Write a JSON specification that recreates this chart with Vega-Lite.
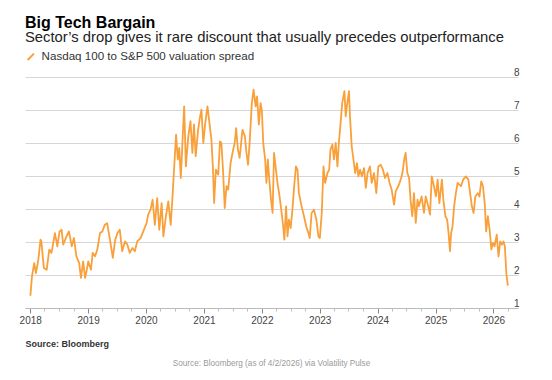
{
  "$schema": "https://vega.github.io/schema/vega-lite/v6.json",
  "width": 493,
  "height": 231,
  "autosize": {"type": "none"},
  "padding": {"top": 77, "left": 25, "right": 34, "bottom": 72},
  "background": "white",
  "title": {
    "text": "Big Tech Bargain",
    "subtitle": "Sector’s drop gives it rare discount that usually precedes outperformance",
    "anchor": "start",
    "frame": "group",
    "font": "Liberation Sans",
    "fontSize": 16,
    "fontWeight": "bold",
    "color": "#000000",
    "subtitleFont": "Liberation Sans",
    "subtitleFontSize": 14.8,
    "subtitleColor": "#222222",
    "subtitlePadding": -0.6,
    "offset": 6
  },
  "config": {
    "view": {"stroke": null},
    "font": "Liberation Sans"
  },
  "resolve": {"axis": {"x": "independent"}},
  "data": {
    "values": [
      {"date": "2018-01-02", "v": 1.37}, {"date": "2018-01-12", "v": 1.96}, {"date": "2018-01-26", "v": 2.36},
      {"date": "2018-02-06", "v": 2.06}, {"date": "2018-02-21", "v": 2.46}, {"date": "2018-03-07", "v": 3.07},
      {"date": "2018-03-12", "v": 3.03}, {"date": "2018-03-28", "v": 2.21}, {"date": "2018-04-15", "v": 2.16},
      {"date": "2018-05-01", "v": 2.77}, {"date": "2018-05-15", "v": 2.67}, {"date": "2018-06-06", "v": 3.27},
      {"date": "2018-06-21", "v": 2.87}, {"date": "2018-07-05", "v": 3.32}, {"date": "2018-07-18", "v": 3.37},
      {"date": "2018-07-28", "v": 2.92}, {"date": "2018-08-18", "v": 3.17}, {"date": "2018-09-02", "v": 3.32},
      {"date": "2018-09-20", "v": 2.87}, {"date": "2018-10-04", "v": 3.12}, {"date": "2018-10-19", "v": 2.57},
      {"date": "2018-11-06", "v": 2.36}, {"date": "2018-11-17", "v": 1.91}, {"date": "2018-12-01", "v": 2.41},
      {"date": "2018-12-13", "v": 1.91}, {"date": "2018-12-24", "v": 2.16}, {"date": "2019-01-02", "v": 2.41},
      {"date": "2019-01-19", "v": 2.16}, {"date": "2019-01-30", "v": 2.67}, {"date": "2019-02-14", "v": 2.57},
      {"date": "2019-02-28", "v": 2.77}, {"date": "2019-03-17", "v": 3.27}, {"date": "2019-04-01", "v": 3.32},
      {"date": "2019-04-16", "v": 3.52}, {"date": "2019-05-01", "v": 3.57}, {"date": "2019-05-19", "v": 3.07},
      {"date": "2019-06-06", "v": 2.52}, {"date": "2019-06-21", "v": 3.07}, {"date": "2019-07-05", "v": 3.27},
      {"date": "2019-07-20", "v": 3.37}, {"date": "2019-08-04", "v": 2.72}, {"date": "2019-08-22", "v": 3.02},
      {"date": "2019-09-06", "v": 2.92}, {"date": "2019-09-21", "v": 2.67}, {"date": "2019-10-08", "v": 2.82},
      {"date": "2019-10-23", "v": 2.72}, {"date": "2019-11-07", "v": 3.02}, {"date": "2019-11-28", "v": 3.12},
      {"date": "2019-12-19", "v": 3.37}, {"date": "2020-01-05", "v": 3.57}, {"date": "2020-01-15", "v": 3.83},
      {"date": "2020-01-30", "v": 3.98}, {"date": "2020-02-12", "v": 4.28}, {"date": "2020-02-26", "v": 3.52},
      {"date": "2020-03-12", "v": 4.33}, {"date": "2020-03-25", "v": 3.37}, {"date": "2020-04-09", "v": 4.18},
      {"date": "2020-04-20", "v": 3.17}, {"date": "2020-05-06", "v": 3.78}, {"date": "2020-05-21", "v": 4.23},
      {"date": "2020-06-05", "v": 3.52}, {"date": "2020-06-18", "v": 4.48}, {"date": "2020-06-25", "v": 5.09},
      {"date": "2020-07-09", "v": 6.25}, {"date": "2020-07-20", "v": 5.5}, {"date": "2020-07-29", "v": 5.85},
      {"date": "2020-08-08", "v": 4.94}, {"date": "2020-08-19", "v": 6.1}, {"date": "2020-08-29", "v": 7.11},
      {"date": "2020-09-09", "v": 5.29}, {"date": "2020-09-24", "v": 6.2}, {"date": "2020-10-08", "v": 6.66},
      {"date": "2020-10-20", "v": 5.7}, {"date": "2020-10-30", "v": 6.56}, {"date": "2020-11-10", "v": 5.6},
      {"date": "2020-11-25", "v": 6.4}, {"date": "2020-12-06", "v": 6.76}, {"date": "2020-12-16", "v": 7.01},
      {"date": "2020-12-28", "v": 6.0}, {"date": "2021-01-08", "v": 6.56}, {"date": "2021-01-23", "v": 7.11},
      {"date": "2021-02-02", "v": 6.71}, {"date": "2021-02-17", "v": 6.1}, {"date": "2021-02-27", "v": 5.19},
      {"date": "2021-03-06", "v": 4.18}, {"date": "2021-03-17", "v": 5.19}, {"date": "2021-04-01", "v": 5.04},
      {"date": "2021-04-12", "v": 6.05}, {"date": "2021-04-21", "v": 6.0}, {"date": "2021-05-01", "v": 5.19},
      {"date": "2021-05-12", "v": 4.03}, {"date": "2021-05-23", "v": 4.69}, {"date": "2021-06-03", "v": 4.59},
      {"date": "2021-06-18", "v": 5.39}, {"date": "2021-07-04", "v": 5.8}, {"date": "2021-07-14", "v": 6.0},
      {"date": "2021-07-23", "v": 6.45}, {"date": "2021-08-03", "v": 5.8}, {"date": "2021-08-14", "v": 5.55},
      {"date": "2021-09-01", "v": 6.4}, {"date": "2021-09-16", "v": 6.2}, {"date": "2021-09-25", "v": 5.75},
      {"date": "2021-10-06", "v": 5.34}, {"date": "2021-10-16", "v": 6.0}, {"date": "2021-10-30", "v": 7.21},
      {"date": "2021-11-10", "v": 7.62}, {"date": "2021-11-23", "v": 7.11}, {"date": "2021-12-02", "v": 7.41},
      {"date": "2021-12-13", "v": 6.56}, {"date": "2021-12-24", "v": 7.21}, {"date": "2022-01-01", "v": 7.0},
      {"date": "2022-01-10", "v": 6.0}, {"date": "2022-01-22", "v": 5.5}, {"date": "2022-01-30", "v": 4.79},
      {"date": "2022-02-08", "v": 5.5}, {"date": "2022-02-17", "v": 4.89}, {"date": "2022-02-28", "v": 4.28},
      {"date": "2022-03-10", "v": 3.88}, {"date": "2022-03-19", "v": 5.7}, {"date": "2022-03-31", "v": 5.19},
      {"date": "2022-04-11", "v": 4.74}, {"date": "2022-04-20", "v": 4.48}, {"date": "2022-05-01", "v": 4.08},
      {"date": "2022-05-16", "v": 3.47}, {"date": "2022-05-23", "v": 3.07}, {"date": "2022-06-03", "v": 4.08},
      {"date": "2022-06-12", "v": 3.17}, {"date": "2022-06-21", "v": 3.68}, {"date": "2022-07-02", "v": 3.42},
      {"date": "2022-07-13", "v": 3.98}, {"date": "2022-07-24", "v": 4.69}, {"date": "2022-08-04", "v": 5.29},
      {"date": "2022-08-14", "v": 5.19}, {"date": "2022-08-23", "v": 4.48}, {"date": "2022-09-09", "v": 4.08},
      {"date": "2022-09-24", "v": 3.78}, {"date": "2022-10-08", "v": 3.47}, {"date": "2022-10-22", "v": 3.27},
      {"date": "2022-10-30", "v": 3.12}, {"date": "2022-11-11", "v": 3.88}, {"date": "2022-11-26", "v": 3.98},
      {"date": "2022-12-11", "v": 3.68}, {"date": "2022-12-24", "v": 3.17}, {"date": "2023-01-02", "v": 3.12},
      {"date": "2023-01-14", "v": 3.88}, {"date": "2023-01-25", "v": 5.29}, {"date": "2023-02-04", "v": 4.79},
      {"date": "2023-02-19", "v": 5.09}, {"date": "2023-03-02", "v": 5.19}, {"date": "2023-03-10", "v": 5.8},
      {"date": "2023-03-22", "v": 5.95}, {"date": "2023-04-01", "v": 5.5}, {"date": "2023-04-12", "v": 6.0},
      {"date": "2023-04-23", "v": 5.29}, {"date": "2023-05-02", "v": 6.0}, {"date": "2023-05-13", "v": 6.61},
      {"date": "2023-05-23", "v": 7.21}, {"date": "2023-06-06", "v": 7.57}, {"date": "2023-06-14", "v": 6.81},
      {"date": "2023-06-24", "v": 7.21}, {"date": "2023-07-05", "v": 7.57}, {"date": "2023-07-11", "v": 6.81},
      {"date": "2023-07-22", "v": 5.9}, {"date": "2023-08-02", "v": 5.5}, {"date": "2023-08-13", "v": 5.09},
      {"date": "2023-08-24", "v": 5.39}, {"date": "2023-09-02", "v": 4.99}, {"date": "2023-09-13", "v": 5.19},
      {"date": "2023-09-24", "v": 4.99}, {"date": "2023-10-08", "v": 5.24}, {"date": "2023-10-19", "v": 4.64},
      {"date": "2023-10-30", "v": 5.09}, {"date": "2023-11-14", "v": 5.29}, {"date": "2023-11-25", "v": 4.79},
      {"date": "2023-12-10", "v": 5.09}, {"date": "2023-12-24", "v": 4.48}, {"date": "2024-01-06", "v": 5.29},
      {"date": "2024-01-21", "v": 5.34}, {"date": "2024-02-04", "v": 5.19}, {"date": "2024-02-17", "v": 4.94},
      {"date": "2024-03-03", "v": 5.09}, {"date": "2024-03-17", "v": 4.79}, {"date": "2024-03-30", "v": 4.59},
      {"date": "2024-04-14", "v": 4.13}, {"date": "2024-04-25", "v": 4.54}, {"date": "2024-05-11", "v": 4.69},
      {"date": "2024-05-26", "v": 4.89}, {"date": "2024-06-06", "v": 5.09}, {"date": "2024-06-17", "v": 5.5},
      {"date": "2024-06-26", "v": 5.7}, {"date": "2024-07-07", "v": 5.09}, {"date": "2024-07-18", "v": 4.94},
      {"date": "2024-07-27", "v": 4.28}, {"date": "2024-08-07", "v": 3.78}, {"date": "2024-08-18", "v": 4.48},
      {"date": "2024-08-29", "v": 3.58}, {"date": "2024-09-09", "v": 4.28}, {"date": "2024-09-18", "v": 4.08},
      {"date": "2024-10-05", "v": 4.38}, {"date": "2024-10-20", "v": 3.88}, {"date": "2024-10-31", "v": 4.38},
      {"date": "2024-11-16", "v": 4.08}, {"date": "2024-11-27", "v": 3.83}, {"date": "2024-12-08", "v": 4.99},
      {"date": "2024-12-22", "v": 4.69}, {"date": "2025-01-03", "v": 4.38}, {"date": "2025-01-14", "v": 4.89},
      {"date": "2025-01-25", "v": 4.18}, {"date": "2025-02-10", "v": 4.89}, {"date": "2025-02-19", "v": 4.28},
      {"date": "2025-03-04", "v": 3.78}, {"date": "2025-03-15", "v": 3.68}, {"date": "2025-03-24", "v": 3.27},
      {"date": "2025-04-02", "v": 2.72}, {"date": "2025-04-09", "v": 3.27}, {"date": "2025-04-18", "v": 3.47},
      {"date": "2025-04-28", "v": 4.08}, {"date": "2025-05-09", "v": 4.48}, {"date": "2025-05-20", "v": 4.79},
      {"date": "2025-06-10", "v": 4.69}, {"date": "2025-06-24", "v": 4.89}, {"date": "2025-07-11", "v": 4.99},
      {"date": "2025-07-27", "v": 4.89}, {"date": "2025-08-07", "v": 4.48}, {"date": "2025-08-18", "v": 4.08},
      {"date": "2025-08-29", "v": 3.88}, {"date": "2025-09-09", "v": 4.38}, {"date": "2025-09-24", "v": 4.48},
      {"date": "2025-10-05", "v": 4.38}, {"date": "2025-10-16", "v": 4.84}, {"date": "2025-10-27", "v": 4.69},
      {"date": "2025-11-07", "v": 4.18}, {"date": "2025-11-16", "v": 3.32}, {"date": "2025-11-27", "v": 3.78},
      {"date": "2025-12-08", "v": 3.37}, {"date": "2025-12-19", "v": 2.77}, {"date": "2025-12-28", "v": 2.97},
      {"date": "2026-01-08", "v": 2.87}, {"date": "2026-01-22", "v": 3.22}, {"date": "2026-02-02", "v": 2.56},
      {"date": "2026-02-13", "v": 3.02}, {"date": "2026-02-24", "v": 2.92}, {"date": "2026-03-05", "v": 3.02},
      {"date": "2026-03-14", "v": 2.87}, {"date": "2026-03-24", "v": 2.01}, {"date": "2026-04-02", "v": 1.68}
    ]
  },
  "encoding": {
    "y": {
      "field": "v", "type": "quantitative", "scale": {"domain": [1, 8]},
      "axis": {
        "orient": "left",
        "values": [1, 2, 3, 4, 5, 6, 7, 8],
        "labelOverlap": false,
        "title": "Source: Bloomberg (as of 4/2/2026) via Volatility Pulse",
        "titleAngle": 0, "titleX": 246, "titleY": 286, "titleAlign": "center", "titleBaseline": "middle",
        "titleFont": "Liberation Sans", "titleFontSize": 8.2,
        "titleFontWeight": "normal", "titleColor": "#9a9a9a",
        "domain": false, "ticks": false, "tickSize": 0,
        "labelAlign": "right", "labelBaseline": "alphabetic", "labelPadding": -494, "labelOffset": -2,
        "labelFont": "Liberation Sans", "labelFontSize": 10, "labelColor": "#444444",
        "grid": true, "gridColor": "#d6d6d6", "gridWidth": 1
      }
    }
  },
  "layer": [
    {
      "mark": {"type": "line", "strokeOpacity": 0},
      "encoding": {
        "x": {
          "field": "date", "type": "temporal",
          "scale": {"domain": ["2017-11-29", "2026-06-05"]},
          "axis": {
            "orient": "bottom",
            "title": null, "labels": false, "grid": false, "domain": false,
            "tickCount": {"interval": "month", "step": 3},
            "tickSize": 3, "tickColor": "#bbbbbb", "tickWidth": 1
          }
        }
      }
    },
    {
      "mark": {"type": "line", "strokeWidth": 1.8, "strokeJoin": "round", "interpolate": "linear"},
      "encoding": {
        "x": {
          "field": "date", "type": "temporal",
          "axis": {
            "orient": "bottom",
            "title": "Source: Bloomberg",
            "titleX": 0, "titleY": 38, "titleAnchor": "start", "titleAlign": "left", "titleBaseline": "alphabetic",
            "titleFont": "Liberation Sans", "titleFontSize": 9, "titleFontWeight": "bold", "titleColor": "#333333",
            "format": "%Y", "tickCount": {"interval": "year", "step": 1},
            "labelFont": "Liberation Sans", "labelFontSize": 10, "labelColor": "#444444", "labelPadding": 2,
            "labelFlush": false,
            "grid": false, "domainColor": "#bbbbbb", "domainWidth": 1,
            "tickSize": 5, "tickColor": "#888888", "tickWidth": 1
          }
        },
        "color": {
          "datum": "Nasdaq 100 to S&P 500 valuation spread",
          "type": "nominal",
          "scale": {"range": ["#f9a03a"]},
          "legend": {
            "title": null,
            "orient": "none", "legendX": 0, "legendY": -26,
            "symbolType": "M-1,1L1,-1", "symbolSize": 40, "symbolStrokeWidth": 2,
            "symbolStrokeColor": "#f9a03a", "symbolFillColor": "transparent",
            "labelFont": "Liberation Sans", "labelFontSize": 11.6, "labelColor": "#333333", "labelOffset": 5,
            "labelLimit": 400,
            "padding": 0
          }
        }
      }
    }
  ]
}
